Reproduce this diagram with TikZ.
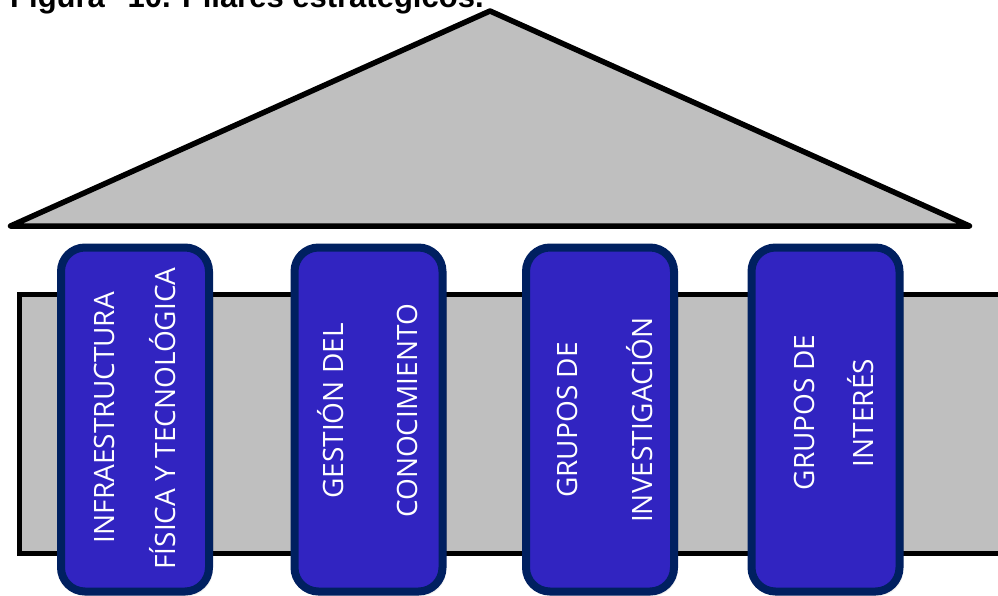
\documentclass[tikz,border=0pt]{standalone}
\usepackage{fontspec}
\setmainfont{Liberation Sans}
\newfontfamily\pillarfont{Open Sans}
\usetikzlibrary{shadows.blur}
\definecolor{roofgray}{RGB}{191,191,191}
\definecolor{pillarfill}{RGB}{49,36,193}
\definecolor{pillaredge}{RGB}{0,32,96}

\begin{document}
\begin{tikzpicture}[x=1pt,y=-1pt,
  structure/.style={draw=black, line width=5.5pt, fill=roofgray},
  pillar/.style={draw=pillaredge, line width=8pt, fill=pillarfill,
    rounded corners=24pt, minimum width=148pt, minimum height=344pt,
    inner sep=0pt,
    blur shadow={shadow xshift=2pt, shadow yshift=-3pt,
      shadow opacity=30, shadow blur steps=6}},
  pillartext/.style={text=white, font=\pillarfont\fontsize{28}{28}\selectfont,
    rotate=90, anchor=base, inner sep=0pt},
  title/.style={font=\bfseries\fontsize{31}{31}\selectfont,
    anchor=base west, inner sep=0pt}]

\useasboundingbox (0,0) rectangle (998,595);
\clip (0,0) rectangle (998,595);

% caption, partly cut by the top edge
\node[title] (title) at (10,7) {Figura\hspace{14pt} 10. Pilares estratégicos.};

% roof
\coordinate (roofL) at (10.5,226);
\coordinate (roofT) at (490,11);
\coordinate (roofR) at (969.5,226);
\path[structure, line join=round] (roofL) -- (roofT) -- (roofR) -- cycle;

% beam, open towards the right edge
\coordinate (beamTR) at (1010,294.5);
\coordinate (beamTL) at (19.5,294.5);
\coordinate (beamBL) at (19.5,553.5);
\coordinate (beamBR) at (1010,553.5);
\path[structure, line join=miter] (beamTR) -- (beamTL) -- (beamBL) -- (beamBR) -- cycle;

% pillars
\node[pillar] (p1) at (135,419.5) {};
\node[pillar] (p2) at (368.5,419.5) {};
\node[pillar] (p3) at (600,419.5) {};
\node[pillar] (p4) at (825.5,419.5) {};

% pillar labels (two rotated lines each)
\node[pillartext] (p1a) at (114,417.5) {INFRAESTRUCTURA};
\node[pillartext] (p1b) at (175,418.5) {FÍSICA Y TECNOLÓGICA};

\node[pillartext] (p2a) at (343,411) {GESTIÓN DEL};
\node[pillartext] (p2b) at (417.5,411) {CONOCIMIENTO};

\node[pillartext] (p3a) at (577.5,420) {GRUPOS DE};
\node[pillartext] (p3b) at (652,420) {INVESTIGACIÓN};

\node[pillartext] (p4a) at (814,412.5) {GRUPOS DE};
\node[pillartext] (p4b) at (873,413) {INTERÉS};

\end{tikzpicture}
\end{document}
